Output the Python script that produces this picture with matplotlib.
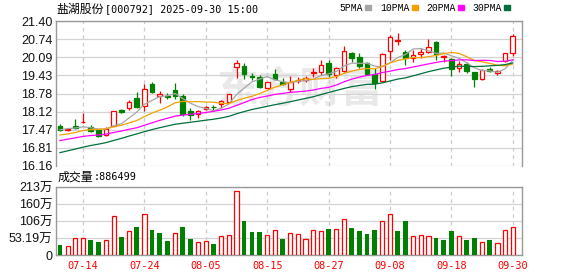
import matplotlib
matplotlib.use("Agg")
import matplotlib.pyplot as plt
from matplotlib.patches import Rectangle
import numpy as np
import pandas as pd

# trading days shown
dates = pd.bdate_range("2025-07-09", "2025-09-30")

opens = [17.61, 17.45, 17.61, 17.74, 17.58, 17.45, 17.27, 17.62, 18.19, 18.27,
         18.62, 18.34, 19.13, 18.70, 18.70, 18.91, 18.70, 18.16, 18.04, 18.21,
         18.30, 18.39, 18.47, 19.75, 19.79, 19.42, 19.39, 18.99, 19.49, 19.20,
         18.93, 19.23, 19.27, 19.53, 19.57, 19.87, 19.45, 19.61, 20.26, 20.09,
         19.87, 19.49, 19.24, 20.33, 20.67, 20.29, 20.08, 20.20, 20.27, 20.63,
         20.10, 20.03, 19.69, 19.84, 19.57, 19.31, 19.67, 19.51, 19.97, 20.25]
highs = [17.68, 17.55, 17.85, 18.09, 17.63, 17.50, 17.56, 18.16, 18.23, 18.55,
         18.84, 19.13, 19.20, 18.87, 18.80, 19.17, 18.75, 18.26, 18.17, 18.34,
         18.37, 18.55, 18.78, 20.00, 19.88, 19.51, 19.45, 19.20, 19.67, 19.35,
         19.41, 19.39, 19.41, 19.69, 19.99, 19.99, 19.75, 20.50, 20.29, 20.23,
         19.93, 19.69, 20.23, 20.89, 20.96, 20.35, 20.35, 20.41, 20.75, 20.69,
         20.17, 20.07, 19.96, 19.93, 19.57, 19.67, 19.75, 19.63, 20.26, 20.93]
lows = [17.42, 17.42, 17.51, 17.73, 17.38, 17.19, 17.24, 17.61, 18.07, 18.19,
        18.27, 18.16, 18.80, 18.45, 18.57, 18.59, 17.98, 17.83, 17.89, 18.17,
        18.15, 18.25, 18.44, 19.33, 19.30, 19.27, 18.98, 18.98, 19.27, 19.09,
        18.85, 19.15, 19.21, 19.39, 19.45, 19.39, 19.33, 19.57, 19.93, 19.69,
        19.45, 18.93, 19.21, 19.99, 20.53, 19.81, 19.93, 20.05, 20.23, 19.99,
        19.93, 19.41, 19.57, 19.51, 19.03, 19.27, 19.57, 19.45, 19.93, 20.15]
closes = [17.47, 17.50, 17.54, 17.76, 17.44, 17.24, 17.50, 18.15, 18.10, 18.48,
          18.31, 18.93, 18.85, 18.76, 18.65, 18.70, 18.03, 18.01, 18.15, 18.31,
          18.28, 18.50, 18.75, 19.87, 19.48, 19.39, 19.01, 19.19, 19.31, 19.14,
          19.18, 19.27, 19.33, 19.56, 19.81, 19.48, 19.69, 20.32, 20.08, 19.78,
          19.49, 19.17, 20.21, 20.81, 20.71, 20.05, 20.17, 20.27, 20.45, 20.21,
          20.12, 19.66, 19.84, 19.61, 19.31, 19.63, 19.59, 19.60, 20.23, 20.86]
# closes before the window, estimated so the moving averages start where they do
prior_closes = [15.55, 15.62, 15.70, 15.68, 15.75, 15.82, 15.80, 15.88, 15.95, 16.00,
                16.45, 16.60, 16.72, 16.80, 16.85, 16.90, 16.95, 17.05, 17.18, 17.25,
                17.10, 17.05, 17.02, 17.12, 17.16, 17.30, 17.42, 17.55, 17.61]
# volume in 万
volumes = [31, 28, 52, 53, 47, 41, 46, 121, 56, 74,
           88, 127, 78, 69, 44, 68, 88, 50, 40, 43,
           34, 58, 62, 199, 106, 72, 72, 62, 77, 50,
           68, 65, 49, 78, 74, 81, 81, 113, 85, 75,
           66, 78, 106, 128, 75, 106, 59, 63, 59, 53,
           47, 75, 59, 47, 53, 41, 47, 38, 78, 88.6499]

price_ticks = ["16.16", "16.81", "17.47", "18.12", "18.78", "19.43", "20.09", "20.74", "21.40"]
vol_ticks = ["0", "53.19万", "106万", "160万", "213万"]
date_ticks = ["07-14", "07-24", "08-05", "08-15", "08-27", "09-08", "09-18", "09-30"]
ma_periods = [5, 10, 20, 30]
ma_colors = ["#a6a6a6", "#f2a100", "#ff00ff", "#00703c"]

RED = "#ff0000"
GREEN = "#008000"
W, H = 578, 276

fig = plt.figure(figsize=(W / 100, H / 100), dpi=100)
ax = fig.add_axes([56 / W, 1 - 166 / H, 466 / W, 145 / H])
axv = fig.add_axes([56 / W, 1 - 255 / H, 466 / W, 68 / H])

o = np.array(opens); h = np.array(highs); l = np.array(lows); c = np.array(closes)
x = np.arange(len(c))
up = c >= o
prev = np.concatenate([[prior_closes[-1]], c[:-1]])
vol_up = c >= prev

# faint watermark
ax.text(31.3, 18.92, "东方财富", fontsize=30, color="#e9e9e9", ha="center", va="center",
        family=["Noto Sans CJK SC"], fontweight="bold", zorder=0)

# candles
for i in x:
    col = RED if up[i] else GREEN
    ax.vlines(i, l[i], h[i], color=col, lw=0.9, zorder=3)
    bottom = min(o[i], c[i])
    height = max(abs(c[i] - o[i]), 0.012)
    ax.add_patch(Rectangle((i - 0.3, bottom), 0.6, height,
                           facecolor="white" if up[i] else GREEN,
                           edgecolor=col, lw=0.9, zorder=4))

# moving averages
full = pd.Series(prior_closes + closes)
for n, col in zip(ma_periods, ma_colors):
    ma = full.rolling(n).mean().iloc[len(prior_closes):].values
    ax.plot(x, ma, color=col, lw=0.9, zorder=5)

# volume bars
for i in x:
    if vol_up[i]:
        axv.bar(i, volumes[i] * 1e4, width=0.56, facecolor="white", edgecolor=RED, lw=0.9, zorder=3)
    else:
        axv.bar(i, volumes[i] * 1e4, width=0.6, color=GREEN, lw=0, zorder=3)

labels = [d.strftime("%m-%d") for d in dates]
tick_idx = [labels.index(d) for d in date_ticks]

lo, hi = 16.16, 21.40
ax.set_ylim(lo, hi)
ax.set_yticks(np.linspace(lo, hi, len(price_ticks)), price_ticks)
vmax = 212.76e4
axv.set_ylim(0, vmax)
axv.set_yticks(np.linspace(0, vmax, len(vol_ticks)), vol_ticks)

for a in (ax, axv):
    a.set_xlim(-0.52, 60.2)
    a.grid(axis="y", color="#d4d4d4", lw=0.9)
    for t in tick_idx:
        a.axvline(t, color="#cccccc", lw=0.9, ls=(0, (3, 3)), zorder=1)
    a.set_axisbelow(True)
    a.tick_params(axis="y", length=0, pad=2.5, labelsize=9, labelcolor="#111111")
    for s in a.spines.values():
        s.set_color("#999999")
        s.set_linewidth(1)
    for lab in a.get_yticklabels():
        lab.set_family(["Liberation Sans", "Noto Sans CJK SC"])

ax.spines["bottom"].set_visible(False)
ax.set_xticks([])
axv.set_xticks(tick_idx, date_ticks)
axv.tick_params(axis="x", length=0, pad=4, labelsize=7.4, labelcolor=RED)
for lab in axv.get_xticklabels():
    lab.set_family("DejaVu Sans Mono")

# header
fig.text(56 / W, 1 - 9 / H, "盐湖股份", fontsize=8.6, family=["Noto Sans CJK SC"], va="center")
fig.text(105 / W, 1 - 9 / H, "[000792] 2025-09-30 15:00", fontsize=7.3,
         family="DejaVu Sans Mono", va="center")

# legend
leg_x = [339, 380, 426, 472]
for n, col, lx in zip(ma_periods, ma_colors, leg_x):
    name = f"{n}PMA"
    fig.text(lx / W, 1 - 8 / H, name, fontsize=7.0, family="Liberation Mono", va="center")
    sx = lx + len(name) * 6.0 + 2
    fig.patches.append(Rectangle((sx / W, 1 - 10 / H), 6 / W, 5 / H, color=col,
                                 transform=fig.transFigure, figure=fig))

# volume title
fig.text(58 / W, 1 - 177 / H, "成交量", fontsize=8.6, family=["Noto Sans CJK SC"], va="center")
fig.text(94 / W, 1 - 177 / H, ":%d" % round(volumes[-1] * 1e4), fontsize=7.3,
         family="DejaVu Sans Mono", va="center")

fig.savefig("out.png", dpi=100)
